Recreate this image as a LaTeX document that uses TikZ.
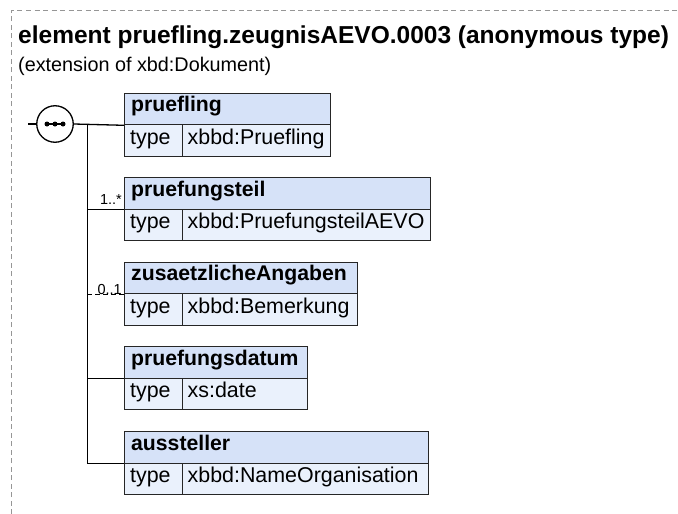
\documentclass[tikz,border=0pt]{standalone}
\usepackage{fontspec}
\setmainfont{Liberation Sans}
\usetikzlibrary{calc}
\definecolor{hdrblue}{RGB}{214,226,248}
\definecolor{rowblue}{RGB}{234,241,252}
\definecolor{brd}{RGB}{150,150,150}
\newcommand\xelem[5]{%
  \node[hdrbox, minimum width=#3-124] (#1) at (124,#2) {};
  \node[rowbox, minimum width=58] (#1t) at (124,#2+31.5) {};
  \node[rowbox, minimum width=#3-182] (#1v) at (182,#2+31.5) {};
  \node[hdrtxt] (#1l) at ([xshift=7pt]#1.west) {#4};
  \node[rowtxt] (#1tl) at ([xshift=6pt]#1t.west) {type};
  \node[rowtxt] (#1vl) at ([xshift=5.5pt]#1v.west) {#5};
}
\begin{document}
\begin{tikzpicture}[x=1pt,y=-1pt,
  hdrbox/.style={draw=black!85, line width=1.3pt, fill=hdrblue, minimum height=31.5, anchor=north west, inner sep=0pt},
  rowbox/.style={draw=black!85, line width=1.3pt, fill=rowblue, minimum height=31.5, anchor=north west, inner sep=0pt},
  hdrtxt/.style={anchor=mid west, inner sep=0pt, font=\bfseries\fontsize{21.2}{25}\selectfont},
  rowtxt/.style={anchor=mid west, inner sep=0pt, yshift=-1pt, font=\fontsize{21.4}{25}\selectfont},
  conn/.style={line width=1.3pt, black},
  mult/.style={anchor=base east, inner sep=0pt, font=\fontsize{14.5}{17}\selectfont},
]
\useasboundingbox (0,0) rectangle (678,514);
\coordinate (bl) at (11,514);
\coordinate (tl) at (11,10.5);
\coordinate (tr) at (678,10.5);
\draw[brd, line width=0.9pt, dash pattern=on 5pt off 3.5pt] (bl) -- (tl) -- (tr);
\node[anchor=base west, inner sep=0pt, font=\bfseries\fontsize{24.5}{28}\selectfont] (title) at (18,43) {element pruefling.zeugnisAEVO.0003 (anonymous type)};
\node[anchor=base west, inner sep=0pt, font=\fontsize{19.8}{23}\selectfont] (sub) at (18,71) {(extension of xbd:Dokument)};

\xelem{pruefling}{92.5}{330}{pruefling}{xbbd:Pruefling}
\xelem{pruefungsteil}{177}{430}{pruefungsteil}{xbbd:PruefungsteilAEVO}
\xelem{zusatz}{261.5}{357}{zusaetzlicheAngaben}{xbbd:Bemerkung}
\xelem{datum}{346}{307}{pruefungsdatum}{xs:date}
\xelem{aussteller}{431}{428}{aussteller}{xbbd:NameOrganisation}

\node[circle, draw=black, line width=1.3pt, fill=white, minimum size=36.5, inner sep=0pt] (seq) at (55,124) {};
\coordinate (stub) at (28,124);
\coordinate (vtop) at (87.3,124);
\draw[conn] (stub) -- (seq.west);
\draw[conn] (seq.east) -- (pruefling.south west);
\draw[line width=1.6pt] ([xshift=-8pt]seq.center) -- ([xshift=8pt]seq.center);
\foreach \dx in {-8,0,8} \fill ([xshift=\dx pt]seq.center) circle (2.5pt);
\draw[conn] (vtop) -- (vtop |- aussteller.south west) -- (aussteller.south west);
\draw[conn] (vtop |- pruefungsteil.south west) -- (pruefungsteil.south west);
\draw[conn, dash pattern=on 5pt off 3pt] (vtop |- zusatz.south west) -- (zusatz.south west);
\draw[conn] (vtop |- datum.south west) -- (datum.south west);
\node[mult] (m1) at ([shift={(-2,-5)}]pruefungsteil.south west) {1..*};
\node[mult] (m2) at ([shift={(-2,0)}]zusatz.south west) {0..1};
\end{tikzpicture}
\end{document}
